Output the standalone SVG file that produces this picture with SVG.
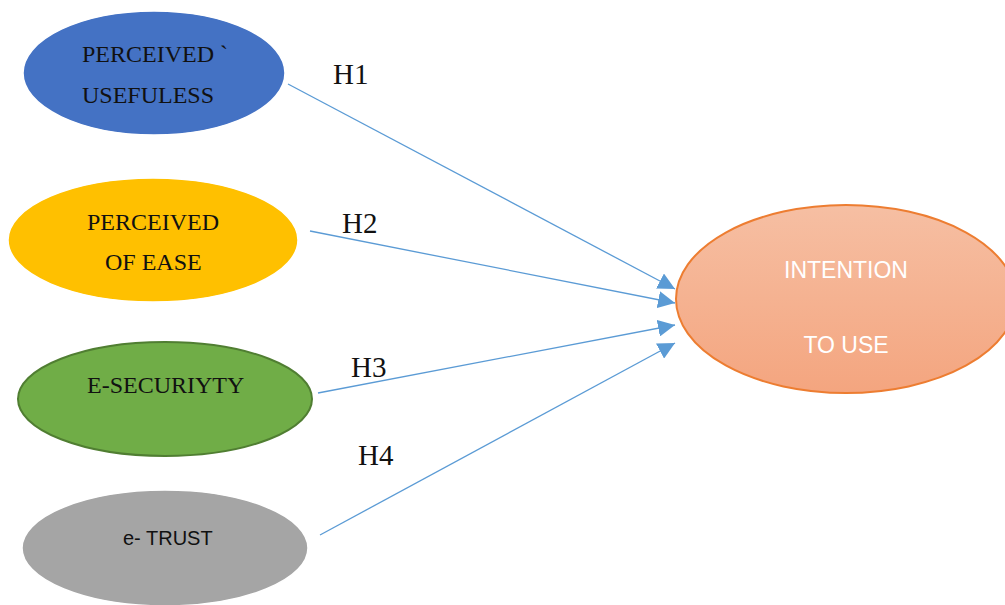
<svg xmlns="http://www.w3.org/2000/svg" width="1005" height="605" viewBox="0 0 1005 605">
<defs>
<linearGradient id="og" x1="0" y1="0" x2="0" y2="1">
<stop offset="0" stop-color="#F6BFA3"/>
<stop offset="1" stop-color="#F4A57F"/>
</linearGradient>
<marker id="ah" viewBox="0 0 10 10" refX="10" refY="5" markerWidth="17" markerHeight="17" markerUnits="userSpaceOnUse" orient="auto">
<path d="M0,0 L10,5 L0,10 z" fill="#5B9BD5"/>
</marker>
<style>
.serif{font-family:"Liberation Serif","Times New Roman",serif;fill:#111;}
.lbl{font-size:24px;}
.h{font-size:29px;}
.sans{font-family:"Liberation Sans",Arial,sans-serif;}
.conn{stroke:#5B9BD5;stroke-width:1.3;fill:none;marker-end:url(#ah);}
</style>
</defs>
<rect width="1005" height="605" fill="#fff"/>
<g id="connectors">
<line class="conn" x1="288" y1="84" x2="675" y2="289"/>
<line class="conn" x1="310" y1="231" x2="675" y2="303"/>
<line class="conn" x1="318" y1="393" x2="675" y2="325"/>
<line class="conn" x1="320" y1="535" x2="675" y2="343"/>
<text class="serif h" x="333" y="84">H1</text>
<text class="serif h" x="342" y="233">H2</text>
<text class="serif h" x="351" y="377">H3</text>
<text class="serif h" x="358" y="465">H4</text>
</g>
<g id="pu">
<ellipse cx="154" cy="73" rx="131" ry="62" fill="#4472C4" stroke="#fff" stroke-width="1.5"/>
<text class="serif lbl" x="82" y="62">PERCEIVED `</text>
<text class="serif lbl" x="82" y="103">USEFULESS</text>
</g>
<g id="pe">
<ellipse cx="153" cy="240" rx="145" ry="62" fill="#FFC000" stroke="#fff" stroke-width="1.5"/>
<text class="serif lbl" x="87" y="230">PERCEIVED</text>
<text class="serif lbl" x="105" y="270">OF EASE</text>
</g>
<g id="es">
<ellipse cx="165" cy="399" rx="147" ry="57" fill="#70AD47" stroke="#507E32" stroke-width="2"/>
<text class="serif lbl" x="87" y="393">E-SECURIYTY</text>
</g>
<g id="et">
<ellipse cx="165" cy="548" rx="143" ry="58" fill="#A5A5A5" stroke="#fff" stroke-width="1.5"/>
<text class="sans" x="123" y="545" font-size="20" fill="#111">e- TRUST</text>
</g>
<g id="iu">
<ellipse cx="846" cy="299" rx="170" ry="94" fill="url(#og)" stroke="#ED7D31" stroke-width="2"/>
<text class="sans" x="846" y="278" font-size="23" fill="#fff" text-anchor="middle">INTENTION</text>
<text class="sans" x="846" y="353" font-size="23" fill="#fff" text-anchor="middle">TO USE</text>
</g>
</svg>
